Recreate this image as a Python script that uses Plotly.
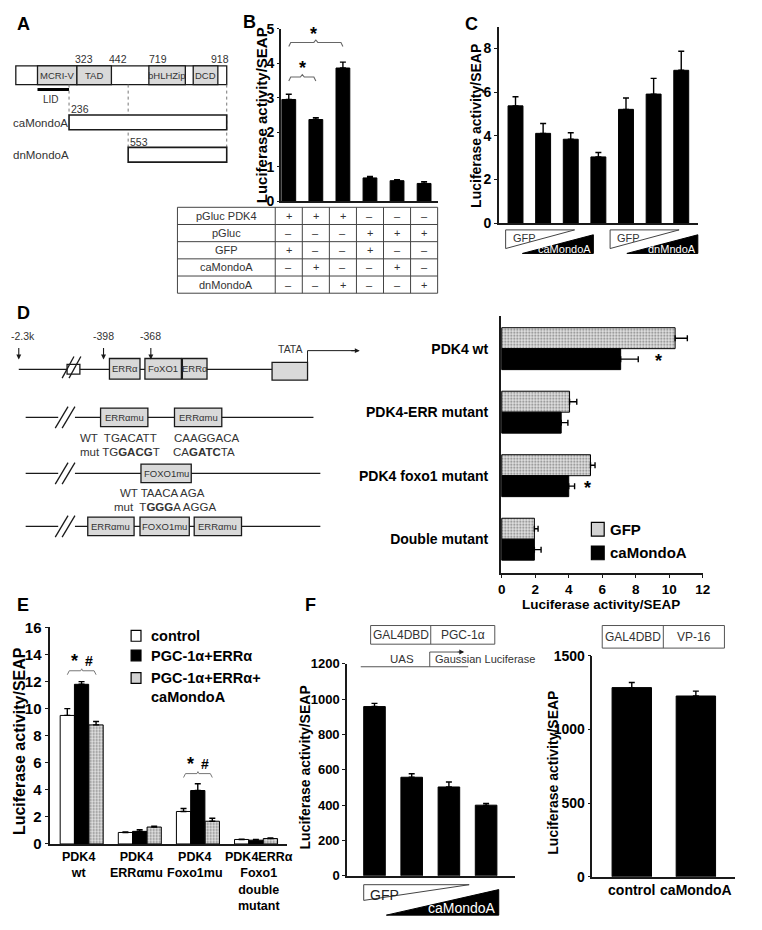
import plotly.graph_objects as go

W, H = 762, 930
FONT = 'Liberation Sans, Arial, sans-serif'
INK = '#1a1a1a'
BOXGRAY = '#d9d9d9'

# ---------------- data ----------------
# A: MondoA domain map
a_domains = ['MCRI-V', 'TAD', 'bHLHZip', 'DCD']
a_residues = ['323', '442', '719', '918']
a_constructs = ['caMondoA', 'dnMondoA']
a_starts = ['236', '553']

# B: PDK4 reporter
b_values = [2.95, 2.37, 3.86, 0.68, 0.60, 0.52]
b_errors = [0.15, 0.05, 0.17, 0.04, 0.03, 0.05]
b_rows = ['pGluc PDK4', 'pGluc', 'GFP', 'caMondoA', 'dnMondoA']
b_signs = [['+', '+', '+', '–', '–', '–'],
           ['–', '–', '–', '+', '+', '+'],
           ['+', '–', '–', '+', '–', '–'],
           ['–', '+', '–', '–', '+', '–'],
           ['–', '–', '+', '–', '–', '+']]

# C: dose response
c_values = [5.37, 4.11, 3.84, 3.03, 5.21, 5.91, 7.00]
c_errors = [0.42, 0.45, 0.30, 0.20, 0.52, 0.72, 0.87]
c_ramps = [('GFP', 'caMondoA'), ('GFP', 'dnMndoA')]

# D: promoter mutants
d_labels = ['PDK4 wt', 'PDK4-ERR mutant', 'PDK4 foxo1 mutant', 'Double mutant']
d_gfp = [10.35, 4.05, 5.30, 1.95]
d_gfp_err = [0.73, 0.43, 0.27, 0.22]
d_ca = [7.10, 3.55, 4.00, 1.95]
d_ca_err = [1.05, 0.40, 0.35, 0.40]

# E: PGC-1a / ERRa
e_labels = ['PDK4<br>wt', 'PDK4<br>ERRαmu', 'PDK4<br>Foxo1mu',
            'PDK4ERRα<br>Foxo1<br>double<br>mutant']
e_control = [9.50, 0.85, 2.40, 0.33]
e_control_err = [0.50, 0.03, 0.22, 0.03]
e_pgc = [11.80, 0.93, 3.95, 0.28]
e_pgc_err = [0.20, 0.12, 0.50, 0.05]
e_pgc_ca = [8.80, 1.25, 1.68, 0.40]
e_pgc_ca_err = [0.25, 0.07, 0.22, 0.04]
e_series = ['control', 'PGC-1α+ERRα', 'PGC-1α+ERRα+<br>caMondoA']

# F: GAL4 one-hybrid
f_pgc = [958, 558, 503, 400]
f_pgc_err = [18, 20, 28, 10]
f_vp16_labels = ['control', 'caMondoA']
f_vp16 = [1285, 1228]
f_vp16_err = [35, 33]

# ---------------- helpers (pixel coords -> paper) ----------------
shapes, annotations = [], []


def fx(x):
    return x / W


def fy(y):
    return 1 - y / H


def rect(x0, y0, x1, y1, fill='white', color=INK, lw=1.3, dash='solid'):
    shapes.append(dict(type='rect', xref='paper', yref='paper', x0=fx(x0), x1=fx(x1),
                       y0=fy(y0), y1=fy(y1), fillcolor=fill,
                       line=dict(color=color, width=lw, dash=dash), layer='above'))


def seg(x0, y0, x1, y1, color=INK, lw=1.3, dash='solid'):
    shapes.append(dict(type='line', xref='paper', yref='paper', x0=fx(x0), x1=fx(x1),
                       y0=fy(y0), y1=fy(y1), line=dict(color=color, width=lw, dash=dash),
                       layer='above'))


def path(pts, fill=None, color=INK, lw=1.2, closed=False):
    d = 'M ' + ' L '.join(f'{fx(x):.5f},{fy(y):.5f}' for x, y in pts) + (' Z' if closed else '')
    shapes.append(dict(type='path', xref='paper', yref='paper', path=d,
                       fillcolor=fill or 'rgba(0,0,0,0)',
                       line=dict(color=color, width=lw), layer='above'))


def txt(x, y, s, size=11, color='#333', bold=False, anchor='center', valign='middle', angle=0):
    annotations.append(dict(xref='paper', yref='paper', x=fx(x), y=fy(y), text=s,
                            showarrow=False, textangle=angle, xanchor=anchor, yanchor=valign,
                            borderpad=0, align='left' if anchor == 'left' else 'center',
                            font=dict(family=FONT, size=size, color=color,
                                      weight='bold' if bold else 'normal')))


def arrow(x, y, ax, ay):
    annotations.append(dict(xref='paper', yref='paper', x=fx(x), y=fy(y), ax=ax, ay=ay,
                            text='', showarrow=True, arrowhead=2, arrowsize=0.9,
                            arrowwidth=1.1, arrowcolor=INK))


# axis geometry: pixel box, data range (bottom/left value first)
AX = {
    'B': dict(s='', x=(282, 441), y=(196, 20), xr=(-0.29, 5.5), yr=(0, 5)),
    'C': dict(s='2', x=(503, 705), y=(218, 18), xr=(-0.607, 6.6), yr=(0, 9)),
    'D': dict(s='3', x=(505, 710), y=(575, 313), xr=(-0.06, 12), yr=(3.54, -0.51)),
    'E': dict(s='4', x=(48, 288), y=(850.5, 630), xr=(-0.54, 3.53), yr=(0, 16)),
    'F1': dict(s='5', x=(349, 520), y=(883, 667), xr=(-0.74, 3.79), yr=(0, 1200)),
    'F2': dict(s='6', x=(598, 743), y=(884, 659), xr=(-0.615, 1.615), yr=(0, 1500)),
}


def to_px(p, xv, yv):
    g = AX[p]
    x = g['x'][0] + (xv - g['xr'][0]) / (g['xr'][1] - g['xr'][0]) * (g['x'][1] - g['x'][0])
    y = g['y'][0] + (yv - g['yr'][0]) / (g['yr'][1] - g['yr'][0]) * (g['y'][1] - g['y'][0])
    return x, y


layout_axes = {}


def axes(p, xkw, ykw):
    g = AX[p]
    s = g['s']
    base = dict(showgrid=False, zeroline=False, showline=True, linecolor=INK, linewidth=1.5,
                tickcolor=INK, tickwidth=1.3, ticklen=4)
    layout_axes['xaxis' + s] = dict(base, domain=[fx(g['x'][0]), fx(g['x'][1])],
                                    range=list(g['xr']), anchor='y' + s, **xkw)
    layout_axes['yaxis' + s] = dict(base, domain=[fy(g['y'][0]), fy(g['y'][1])],
                                    range=list(g['yr']), anchor='x' + s, **ykw)


def tickfont(size):
    return dict(family=FONT, size=size, color='black', weight='bold')


def up_err(err):
    return dict(type='data', symmetric=False, array=err, arrayminus=[0] * len(err),
                color='black', thickness=1.4, width=3)


def ylabel(x, y, size):
    txt(x, y, 'Luciferase activity/SEAP', size=size, color='black', bold=True, angle=-90)


fig = go.Figure()
black = dict(color='black', line=dict(color='black', width=1))
stipple = dict(color='#d2d2d2', line=dict(color='black', width=1),
               pattern=dict(shape='.', fgcolor='#7a7a7a', bgcolor='#e4e4e4', size=3,
                            solidity=0.3, fillmode='replace'))
white = dict(color='white', line=dict(color='black', width=1))

# ---------------- panel labels ----------------
for lab, (x, y) in {'A': (13, 15), 'B': (242, 13), 'C': (468, 15), 'D': (13, 310),
                    'E': (13, 607), 'F': (305, 607)}.items():
    txt(x, y, lab, size=18, color='black', bold=True, anchor='left')

# ---------------- A ----------------
rect(13, 58, 227, 77)
seg_x = [(35, 75), (75, 110), (148, 185), (193, 218)]
for (x0, x1), name in zip(seg_x, a_domains):
    rect(x0, 58, x1, 77, fill=BOXGRAY)
    txt((x0 + x1) / 2, 67.5, name, size=9.5)
for x, r in zip([82, 117, 157, 220], a_residues):
    txt(x, 51, r, size=10.5)
seg(35, 82, 67, 82, color='black', lw=3)
txt(49, 92, 'LID', size=10)
seg(67, 77, 67, 108, color='#777', lw=1, dash='dot')
seg(127, 77, 127, 141, color='#777', lw=1, dash='dot')
seg(227, 77, 227, 141, color='#777', lw=1, dash='dot')
for (name, start), (x0, y0) in zip(zip(a_constructs, a_starts), [(67, 108), (127, 141)]):
    rect(x0, y0, 227, y0 + 15, lw=1.6)
    txt(x0 + 1, y0 - 6, start, size=10.5, anchor='left')
    txt(9, y0 + 8, name, size=11.5, anchor='left')

# ---------------- B ----------------
fig.add_trace(go.Bar(x=list(range(6)), y=b_values, width=0.51, marker=black,
                     error_y=up_err(b_errors), xaxis='x', yaxis='y', showlegend=False))
axes('B', dict(showticklabels=False, ticks=''),
     dict(ticks='outside', ticklen=2, dtick=1, tickfont=tickfont(14), ticklabelstandoff=0))
ylabel(262, 108, 15)


def brace(p, xa, xb, yv, color='#666'):
    x1, y = to_px(p, xa, yv)
    x2, _ = to_px(p, xb, yv)
    xm = (x1 + x2) / 2
    path([(x1, y + 4), (x1 + 2, y), (xm - 2, y), (xm, y - 2.5), (xm + 2, y), (x2 - 2, y), (x2, y + 4)],
         color=color, lw=1.1)


brace('B', 0, 1, 3.6)
brace('B', 0, 2, 4.6)
for xa, yv in [(0.5, 3.85), (0.9, 4.85)]:
    x, y = to_px('B', xa, yv)
    txt(x, y, '*', size=18, color='black', bold=True)

# table under B
cols = [177] + [to_px('B', i - 0.5, 0)[0] for i in range(7)]
rows_y = [202 + 17.5 * i for i in range(6)]
rect(cols[0], rows_y[0], cols[-1], rows_y[-1], color='#444', lw=1)
for x in cols[1:-1]:
    seg(x, rows_y[0], x, rows_y[-1], color='#444', lw=1)
for y in rows_y[1:-1]:
    seg(cols[0], y, cols[-1], y, color='#444', lw=1)
for r, (name, signs) in enumerate(zip(b_rows, b_signs)):
    yc = (rows_y[r] + rows_y[r + 1]) / 2
    txt((cols[0] + cols[1]) / 2, yc, name, size=11)
    for c, sgn in enumerate(signs):
        txt((cols[c + 1] + cols[c + 2]) / 2, yc, sgn, size=11)

# ---------------- C ----------------
fig.add_trace(go.Bar(x=list(range(7)), y=c_values, width=0.54, marker=black,
                     error_y=up_err(c_errors), xaxis='x2', yaxis='y2', showlegend=False))
axes('C', dict(showticklabels=False, ticks=''),
     dict(ticks='outside', ticklen=3, dtick=2, tickfont=tickfont(14)))
ylabel(480, 119, 14)
for (lo, hi), x0, x1 in zip(c_ramps, [510, 616], [599, 705]):
    path([(x0, 225), (x0 + 70, 225), (x0, 244)], fill='white', color='#444', lw=1, closed=True)
    path([(x1 - 72, 249), (x1, 249), (x1, 230)], fill='black', color='black', lw=1, closed=True)
    txt(x0 + 6, 233, lo, size=11, anchor='left')
    txt(x1 - 1, 244, hi, size=11, color='white', anchor='right')

# ---------------- D (diagram) ----------------
# wild-type promoter
seg(16, 367, 273, 367)
rect(65, 362, 78, 372)
seg(60, 376, 72, 354)
seg(67, 376, 79, 354)
for (x0, x1), name in zip([(108, 139), (144, 181), (182, 207)], ['ERRα', 'FoXO1', 'ERRα']):
    rect(x0, 356, x1, 377, fill=BOXGRAY)
    txt((x0 + x1) / 2, 366.5, name, size=9.5)
rect(273, 360, 309, 378, fill=BOXGRAY)
txt(292, 346, 'TATA', size=10.5)
path([(309, 360), (309, 348), (356, 348)], lw=1)
arrow(362, 348, -10, 0)
for x, lab in [(16, '-2.3k'), (102, '-398'), (150, '-368')]:
    txt(x + 4 if x == 16 else x, 333, lab, size=10.5)
    arrow(x, 357, 0, -13)


def mutant_line(y, boxes, x_end):
    seg(23, y, 56, y)
    seg(73, y, x_end, y)
    seg(53, y + 11, 66, y - 11)
    seg(60, y + 11, 73, y - 11)
    for (x0, x1), name in boxes:
        rect(x0, y - 9.5, x1, y + 9.5, fill=BOXGRAY)
        txt((x0 + x1) / 2, y, name, size=9.5)


mutant_line(416, [((99, 147), 'ERRαmu'), ((174, 222), 'ERRαmu')], 315)
txt(77, 437, 'WT  TGACATT', size=11.5, anchor='left')
txt(77, 451, 'mut TG<b>GACG</b>T', size=11.5, anchor='left')
txt(172, 437, 'CAAGGACA', size=11.5, anchor='left')
txt(171, 451, 'CA<b>GATC</b>TA', size=11.5, anchor='left')
mutant_line(473, [((140, 191), 'FOXO1mu')], 322)
txt(118, 493, 'WT TAACA AGA', size=11.5, anchor='left')
txt(112, 507, 'mut  T<b>GGG</b>A AGGA', size=11.5, anchor='left')
mutant_line(527, [((86, 133), 'ERRαmu'), ((139, 189), 'FOXO1mu'), ((194, 242), 'ERRαmu')], 322)

# ---------------- D (bars) ----------------
ypos = list(range(4))
fig.add_trace(go.Bar(y=ypos, x=d_gfp, orientation='h', width=0.33, offset=-0.33, marker=stipple,
                     error_x=up_err(d_gfp_err), xaxis='x3', yaxis='y3', showlegend=False))
fig.add_trace(go.Bar(y=ypos, x=d_ca, orientation='h', width=0.33, offset=0, marker=black,
                     error_x=up_err(d_ca_err), xaxis='x3', yaxis='y3', showlegend=False))
axes('D', dict(ticks='outside', ticklen=3, dtick=2, tickfont=tickfont(13.5), ticklabelstandoff=0),
     dict(ticks='', tickvals=ypos, ticktext=d_labels, tickfont=tickfont(14), ticklabelstandoff=8))
txt(607, 607, 'Luciferase activity/SEAP', size=13.5, color='black', bold=True)
for xv, yv in [(9.35, 0.2), (5.15, 2.2)]:
    x, y = to_px('D', xv, yv)
    txt(x, y, '*', size=18, color='black', bold=True)
rect(597, 523, 610, 537, fill='#d2d2d2', color='black', lw=1.2)
txt(615, 530, 'GFP', size=15, color='black', bold=True, anchor='left')
rect(597, 547, 610, 561, fill='black', color='black', lw=1.2)
txt(615, 554, 'caMondoA', size=15, color='black', bold=True, anchor='left')

# ---------------- E ----------------
epos = list(range(4))
for vals, errs, off, mk in [(e_control, e_control_err, -0.37, white),
                            (e_pgc, e_pgc_err, -0.125, black),
                            (e_pgc_ca, e_pgc_ca_err, 0.125, stipple)]:
    fig.add_trace(go.Bar(x=epos, y=vals, width=0.245, offset=off, marker=mk,
                         error_y=up_err(errs), xaxis='x4', yaxis='y4', showlegend=False))
axes('E', dict(ticks='', showticklabels=False),
     dict(ticks='outside', dtick=2, tickfont=tickfont(15)))
for i, lab in enumerate(e_labels):
    xc = to_px('E', i, 0)[0] + (3 if i == 3 else -3)
    txt(xc, 856, lab, size=12.5, color='black', bold=True, valign='top')
ylabel(17, 746, 16)
for g, yv in [(0, 12.8), (2, 5.2)]:
    x1, y = to_px('E', g - 0.2475, yv)
    x2, _ = to_px('E', g, yv)
    x3, _ = to_px('E', g + 0.2475, yv)
    path([(x1, y + 4), (x1 + 2, y), (x2 - 1, y), (x2, y - 2)], color='#777', lw=1)
    path([(x2, y - 2), (x2 + 1, y), (x3 - 2, y), (x3, y + 4)], color='#777', lw=1)
    txt((x1 + x2) / 2, y - 10, '*', size=18, color='black', bold=True)
    txt((x2 + x3) / 2, y - 10, '#', size=14, color='black', bold=True)
for (y0, fill), name in zip([(633, 'white'), (653, 'black'), (676, '#d2d2d2')], e_series):
    rect(130, y0, 140, y0 + 11, fill=fill, color='black', lw=1.2)
    txt(149, y0 - 3.5, name, size=14.5, color='black', bold=True, anchor='left', valign='top')

# ---------------- F (left) ----------------
fig.add_trace(go.Bar(x=list(range(4)), y=f_pgc, width=0.58, marker=black,
                     error_y=up_err(f_pgc_err), xaxis='x5', yaxis='y5', showlegend=False))
axes('F1', dict(showticklabels=False, ticks=''),
     dict(ticks='outside', ticklen=3, dtick=200, tickfont=tickfont(13)))
ylabel(306, 773, 14)
rect(373, 628, 499, 647, color='#555', lw=1)
seg(434, 628, 434, 647, color='#555', lw=1)
txt(403.5, 637.5, 'GAL4DBD', size=12)
txt(466.5, 637.5, 'PGC-1α', size=12)
seg(363, 670, 472, 670, color='#555', lw=1)
txt(405, 662, 'UAS', size=11.5)
path([(433, 670), (433, 655), (462, 655)], color='#555', lw=1)
arrow(468, 655, -8, 0)
txt(437, 662, 'Gaussian Luciferase', size=11, anchor='left')
path([(366, 892), (473, 892), (366, 908)], fill='white', color='#444', lw=1, closed=True)
path([(389, 923), (503, 923), (503, 897)], fill='black', color='black', lw=1, closed=True)
txt(371, 902, 'GFP', size=14, color='#222', anchor='left')
txt(501, 916, 'caMondoA', size=14, color='white', anchor='right')

# ---------------- F (right) ----------------
fig.add_trace(go.Bar(x=[0, 1], y=f_vp16, width=0.615, marker=black,
                     error_y=up_err(f_vp16_err), xaxis='x6', yaxis='y6', showlegend=False))
axes('F2', dict(ticks='', tickvals=[0, 1], ticktext=f_vp16_labels, tickfont=tickfont(14)),
     dict(ticks='outside', ticklen=3, dtick=500, tickfont=tickfont(14)))
ylabel(558, 778, 14)
rect(608, 628, 732, 651, color='#555', lw=1)
seg(670, 628, 670, 651, color='#555', lw=1)
txt(639, 639.5, 'GAL4DBD', size=12)
txt(701, 639.5, 'VP-16', size=12)

fig.update_layout(width=W, height=H, margin=dict(l=0, r=0, t=0, b=0),
                  paper_bgcolor='white', plot_bgcolor='white',
                  font=dict(family=FONT, color='black'),
                  showlegend=False, shapes=shapes, annotations=annotations,
                  **layout_axes)

fig.write_html("out.html", config={'displayModeBar': False},
               post_script="document.body.style.margin='0';")
